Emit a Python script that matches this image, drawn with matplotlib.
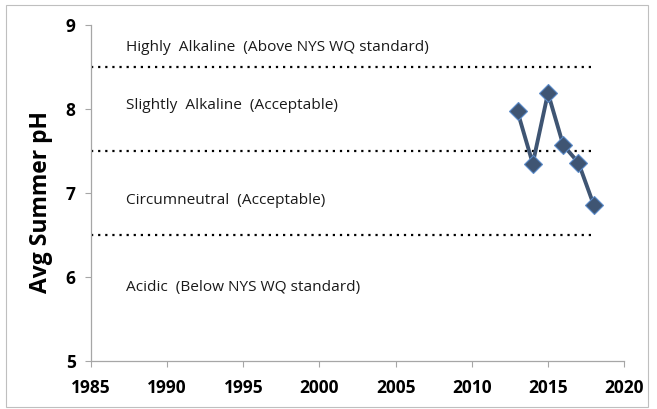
import matplotlib.pyplot as plt
from matplotlib.patches import Rectangle

years = [2013, 2014, 2015, 2016, 2017, 2018]
avg_ph = [7.97, 7.35, 8.19, 7.57, 7.36, 6.86]

boundaries = [8.5, 7.5, 6.5]
zone_labels = [
    "Highly  Alkaline  (Above NYS WQ standard)",
    "Slightly  Alkaline  (Acceptable)",
    "Circumneutral  (Acceptable)",
    "Acidic  (Below NYS WQ standard)",
]
zone_label_y = [8.73, 8.04, 6.91, 5.88]

x_ticks = [1985, 1990, 1995, 2000, 2005, 2010, 2015, 2020]
y_ticks = [5, 6, 7, 8, 9]

plt.rcParams["font.family"] = ["Open Sans", "DejaVu Sans"]

fig = plt.figure(figsize=(6.57, 4.09), dpi=100)
ax = fig.add_axes([0.1385, 0.1174, 0.8115, 0.8216])

# outer chart border
fig.patches.append(Rectangle((0.009, 0.005), 0.978, 0.982, transform=fig.transFigure,
                             fill=False, edgecolor="#BFBFBF", linewidth=0.8))

for b in boundaries:
    ax.plot([x_ticks[0], years[-1]], [b, b], color="black",
            linewidth=1.6, linestyle=(0, (1, 2.2)))

for label, y in zip(zone_labels, zone_label_y):
    ax.text(1987.3, y, label, fontsize=11.1, va="center", ha="left", color="#1a1a1a")

ax.plot(years, avg_ph, color="#3F5573", linewidth=2.8, marker="D",
        markersize=9.5, markerfacecolor="#3F5573", markeredgecolor="#5B8BC9",
        markeredgewidth=0.8)

ax.set_xlim(1985, 2020)
ax.set_ylim(5, 9)
ax.set_xticks(x_ticks)
ax.set_yticks(y_ticks)
ax.tick_params(axis="both", direction="out", length=4, color="#A6A6A6",
               labelsize=12.5)
ax.tick_params(axis="x", pad=9)
ax.tick_params(axis="y", pad=7)
for lab in ax.get_xticklabels() + ax.get_yticklabels():
    lab.set_fontweight("bold")

for side in ["top", "right"]:
    ax.spines[side].set_visible(False)
for side in ["left", "bottom"]:
    ax.spines[side].set_color("#A6A6A6")
    ax.spines[side].set_linewidth(0.9)

ax.set_ylabel("Avg Summer pH", fontsize=16.5, fontweight="bold")
ax.yaxis.set_label_coords(-0.072, 0.473)

fig.savefig("out.png", dpi=100)
